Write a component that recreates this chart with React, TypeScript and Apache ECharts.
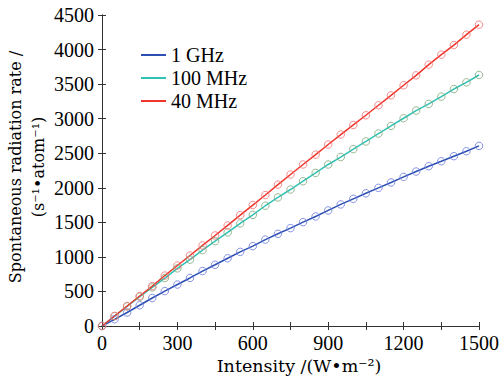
import React, { useEffect, useRef } from "react";
import * as echarts from "echarts";

const intensity = [0, 50, 100, 150, 200, 250, 300, 350, 400, 450, 500, 550, 600, 650, 700, 750, 800, 850, 900, 950, 1000, 1050, 1100, 1150, 1200, 1250, 1300, 1350, 1400, 1450, 1500];

const rate1GHz = [0, 97, 195, 300, 405, 505, 600, 695, 795, 886, 980, 1072, 1156, 1250, 1334, 1416, 1503, 1585, 1672, 1759, 1840, 1920, 1999, 2077, 2158, 2235, 2312, 2384, 2457, 2529, 2606];
const rate100MHz = [0, 142, 284, 424, 559, 694, 834, 960, 1098, 1228, 1354, 1484, 1608, 1740, 1860, 1975, 2095, 2215, 2337, 2445, 2560, 2670, 2785, 2895, 3006, 3117, 3213, 3319, 3429, 3526, 3632];
const rate40MHz = [0, 145, 289, 434, 578, 730, 875, 1020, 1166, 1310, 1455, 1604, 1750, 1895, 2045, 2192, 2337, 2480, 2626, 2770, 2909, 3049, 3194, 3338, 3483, 3627, 3782, 3926, 4065, 4215, 4360];

const seriesNames = ["1 GHz", "100 MHz", "40 MHz"];
const lineColors = ["#2c4fb3", "#2fc2b4", "#f0352c"];
const markerColors = ["#6a78dc", "#7fa678", "#f07272"];

const NUM_FONT = "Liberation Serif";
const TITLE_FONT = "DejaVu Serif";

export default function App() {
  const ref = useRef<HTMLDivElement>(null);
  useEffect(() => {
    if (!ref.current) return;
    const chart = echarts.init(ref.current, null, { renderer: "svg" });
    const datasets = [rate1GHz, rate100MHz, rate40MHz];
    const series: any[] = [];
    datasets.forEach((d, i) => {
      const pts = intensity.map((x, k) => [x, d[k]]);
      series.push({
        name: seriesNames[i],
        type: "line",
        data: pts,
        showSymbol: false,
        symbol: "none",
        lineStyle: { color: lineColors[i], width: 1.5 },
        itemStyle: { color: lineColors[i] },
        z: 2,
      });
      series.push({
        name: seriesNames[i] + "_m",
        type: "scatter",
        data: pts,
        symbol: "circle",
        symbolSize: 7.5,
        itemStyle: { color: "rgba(0,0,0,0)", borderColor: markerColors[i], borderWidth: 1 },
        z: 3,
      });
    });
    const axisCommon = {
      axisLine: { show: true, lineStyle: { color: "#333", width: 1 } },
      axisTick: { show: true, inside: true, length: 4, lineStyle: { color: "#333" } },
      splitLine: { show: false },
    };
    chart.setOption({
      animation: false,
      backgroundColor: "#ffffff",
      grid: { left: 102, right: 21, top: 15, bottom: 54, containLabel: false },
      xAxis: [
        {
          type: "value", min: 0, max: 1500, interval: 150, position: "bottom",
          ...axisCommon,
          axisLabel: {
            margin: 7, color: "#000", fontFamily: NUM_FONT, fontSize: 20,
            formatter: (v: number) => (v % 300 === 0 ? String(v) : ""),
          },
        },
        {
          type: "value", min: 0, max: 1500, interval: 150, position: "top",
          ...axisCommon, axisLabel: { show: false },
        },
      ],
      yAxis: [
        {
          type: "value", min: 0, max: 4500, interval: 500, position: "left",
          ...axisCommon,
          axisLabel: {
            margin: 8, color: "#000", fontFamily: NUM_FONT, fontSize: 20,
            formatter: (v: number) => String(v),
          },
        },
        {
          type: "value", min: 0, max: 4500, interval: 500, position: "right",
          ...axisCommon, axisLabel: { show: false },
        },
      ],
      legend: {
        data: seriesNames,
        left: 136,
        top: 40,
        orient: "vertical",
        icon: "rect",
        itemWidth: 25,
        itemHeight: 2,
        itemGap: 3,
        textStyle: { fontFamily: NUM_FONT, fontSize: 20, color: "#000", lineHeight: 20 },
      },
      graphic: [
        {
          type: "text", x: 299, y: 366,
          style: { text: "Intensity /(W•m⁻²)", fontFamily: TITLE_FONT, fontSize: 17.5, fill: "#000", textAlign: "center", textVerticalAlign: "middle" },
        },
        {
          type: "text", x: 15, y: 167, rotation: Math.PI / 2,
          style: { text: "Spontaneous radiation rate /", fontFamily: TITLE_FONT, fontSize: 16, fill: "#000", textAlign: "center", textVerticalAlign: "middle" },
        },
        {
          type: "text", x: 38, y: 167, rotation: Math.PI / 2,
          style: { text: "(s⁻¹•atom⁻¹)", fontFamily: TITLE_FONT, fontSize: 16, fill: "#000", textAlign: "center", textVerticalAlign: "middle" },
        },
      ],
      series,
    });
    return () => chart.dispose();
  }, []);
  return <div ref={ref} style={{ position: "fixed", left: 0, top: 0, width: 502, height: 380 }} />;
}
